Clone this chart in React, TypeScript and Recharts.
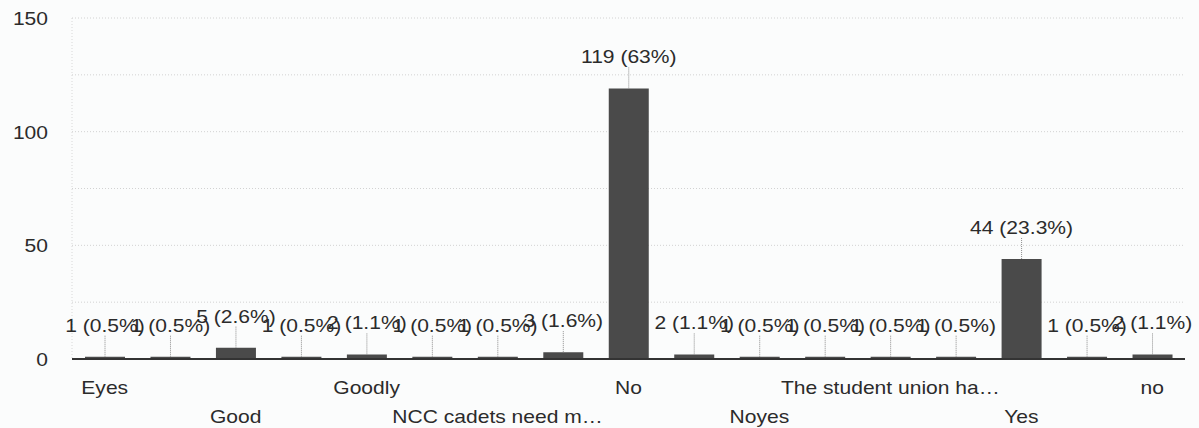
import React from 'react';
import { BarChart, Bar, XAxis, YAxis, CartesianGrid, LabelList } from 'recharts';

// answers as they show on the axis (odd ones are hidden by the chart)
const categories = [
  'Eyes',
  'Fine',
  'Good',
  'Good work',
  'Goodly',
  'Maybe',
  'NCC cadets need m…',
  'Neutral',
  'No',
  'No comments',
  'Noyes',
  'Sometimes',
  'The student union ha…',
  'Very good',
  'Yes',
  'Yes they do',
  'no',
];

const counts = [1, 1, 5, 1, 2, 1, 1, 3, 119, 2, 1, 1, 1, 1, 44, 1, 2];

const yTicks = [0, 25, 50, 75, 100, 125, 150];
const labelledTicks = [0, 50, 100, 150];
const totalResponses = 189;

const data = categories.map((name, i) => ({ name, count: counts[i] }));

const FONT = '"Liberation Sans", Arial, sans-serif';
const STRETCH = 1.17;
const TEXT = '#2b2b2b';

function pctLabel(v: number) {
  const p = ((v / totalResponses) * 100).toFixed(1).replace(/\.0$/, '');
  return `${v} (${p}%)`;
}

const YTick = (props: any) => {
  const { y, payload } = props;
  if (!labelledTicks.includes(payload.value)) return <g />;
  return (
    <text
      transform={`translate(48, ${y + 7}) scale(${STRETCH}, 1)`}
      textAnchor="end"
      fontSize={18}
      fontFamily={FONT}
      fill={TEXT}
    >
      {payload.value}
    </text>
  );
};

const XTick = (props: any) => {
  const { x, payload } = props;
  const i = payload.index ?? props.index;
  if (i % 2 === 1) return <g />;
  const row = (i / 2) % 2;
  const baseline = row === 0 ? 394 : 423;
  return (
    <text
      transform={`translate(${x}, ${baseline}) scale(${STRETCH}, 1)`}
      textAnchor="middle"
      fontSize={18}
      fontFamily={FONT}
      fill={TEXT}
    >
      {payload.value}
    </text>
  );
};

const BarLabel = (props: any) => {
  const { x, y, width, value } = props;
  const cx = Number(x) + Number(width) / 2;
  const top = Number(y);
  return (
    <g>
      <line x1={cx} x2={cx} y1={top} y2={top - 22} stroke="#8c8c8c" strokeWidth={1} strokeDasharray="1 1" />
      <text
        transform={`translate(${cx}, ${top - 25}) scale(${STRETCH}, 1)`}
        textAnchor="middle"
        fontSize={18}
        fontFamily={FONT}
        fill={TEXT}
      >
        {pctLabel(value)}
      </text>
    </g>
  );
};

export default function App() {
  return (
    <div style={{ position: 'absolute', left: 0, top: 0, width: 1199, height: 428, background: '#fbfcfc' }}>
      <BarChart width={1199} height={428} data={data} margin={{ top: 18, right: 14, left: 0, bottom: 0 }}>
        <CartesianGrid vertical={false} stroke="#d2d2d2" strokeDasharray="1 2" />
        <YAxis
          width={72}
          domain={[0, 150]}
          ticks={yTicks}
          interval={0}
          tick={<YTick />}
          tickLine={false}
          axisLine={{ stroke: '#d8d8d8', strokeDasharray: '1 2' }}
        />
        <XAxis
          dataKey="name"
          height={69}
          interval={0}
          tick={<XTick />}
          tickLine={false}
          axisLine={{ stroke: '#333333', strokeWidth: 2 }}
        />
        <Bar dataKey="count" barSize={40} fill="#4a4a4a" isAnimationActive={false}>
          <LabelList dataKey="count" content={<BarLabel />} />
        </Bar>
      </BarChart>
    </div>
  );
}
